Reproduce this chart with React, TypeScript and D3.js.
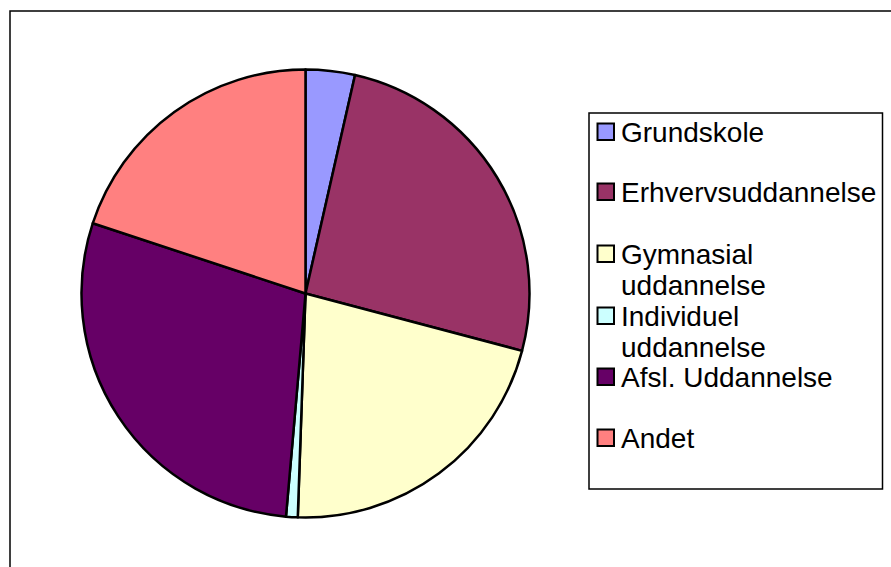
import React, { useEffect, useRef } from 'react';
import * as d3 from 'd3';

// slices, clockwise from 12 o'clock
const categories = ['Grundskole', 'Erhvervsuddannelse', 'Gymnasial uddannelse', 'Individuel uddannelse', 'Afsl. Uddannelse', 'Andet'];
const values = [3.55, 25.57, 21.43, 0.84, 28.69, 19.92];
const colors = ['#9999FF', '#993366', '#FFFFCC', '#CCFFFF', '#660066', '#FF8080'];
// legend text lines per entry
const legendLines = [['Grundskole'], ['Erhvervsuddannelse'], ['Gymnasial', 'uddannelse'], ['Individuel', 'uddannelse'], ['Afsl. Uddannelse'], ['Andet']];

const App = () => {
  const svgRef = useRef<SVGSVGElement>(null);

  useEffect(() => {
    const width = 891;
    const height = 567;
    const svg = d3.select(svgRef.current);
    svg.selectAll('*').remove();
    svg.attr('width', width).attr('height', height);

    svg.append('rect')
      .attr('width', width).attr('height', height)
      .attr('fill', 'white');

    // outer chart frame (runs off the right and bottom edges)
    svg.append('rect')
      .attr('x', 10).attr('y', 11)
      .attr('width', 900).attr('height', 600)
      .attr('fill', 'none')
      .attr('stroke', 'black')
      .attr('stroke-width', 1.5);

    const cx = 305.5;
    const cy = 293.5;
    const r = 224;

    const data = categories.map((c, i) => ({ name: c, value: values[i], color: colors[i] }));
    const pie = d3.pie<any>().value(d => d.value).sort(null);
    const arc = d3.arc<any>().innerRadius(0).outerRadius(r);

    const g = svg.append('g').attr('transform', `translate(${cx},${cy})`);
    g.selectAll('path')
      .data(pie(data))
      .join('path')
      .attr('d', arc)
      .attr('fill', d => d.data.color)
      .attr('stroke', 'black')
      .attr('stroke-width', 2.5)
      .attr('stroke-linejoin', 'round');

    // legend
    const legend = svg.append('g');
    legend.append('rect')
      .attr('x', 589).attr('y', 113)
      .attr('width', 293.5).attr('height', 376)
      .attr('fill', 'white')
      .attr('stroke', 'black')
      .attr('stroke-width', 1.5);

    const baselines = [142, 202, 264, 326, 387, 448];
    legendLines.forEach((lines, i) => {
      legend.append('rect')
        .attr('x', 597.5).attr('y', baselines[i] - 18.5)
        .attr('width', 16.5).attr('height', 16.5)
        .attr('fill', colors[i])
        .attr('stroke', 'black')
        .attr('stroke-width', 2);
      const t = legend.append('text')
        .attr('x', 621)
        .attr('y', baselines[i])
        .attr('font-family', '"Liberation Sans", Arial, sans-serif')
        .attr('font-size', 28)
        .attr('fill', 'black');
      lines.forEach((line, j) => {
        t.append('tspan')
          .attr('x', 621)
          .attr('dy', j === 0 ? 0 : 31)
          .text(line);
      });
    });
  }, []);

  return <svg ref={svgRef} style={{ position: 'absolute', left: 0, top: 0 }} />;
};

export default App;
